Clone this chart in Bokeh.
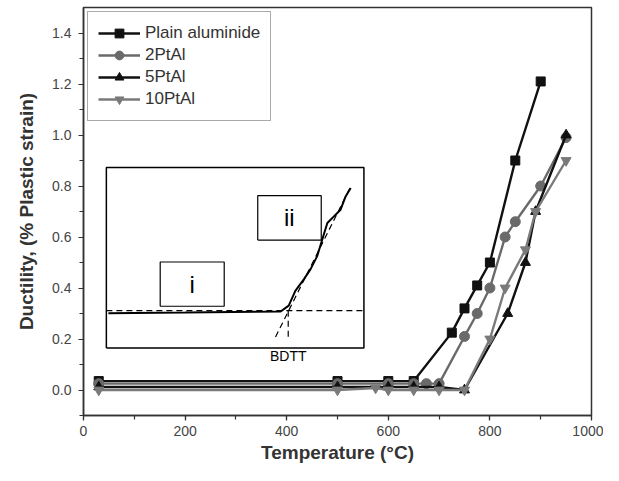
from bokeh.plotting import figure
from bokeh.models import Range1d, SingleIntervalTicker, NumeralTickFormatter, Legend, LegendItem, Label
from bokeh.embed import file_html
from bokeh.resources import INLINE

# Main series (Temperature in °C, ductility in % plastic strain)
plain_x = [30, 500, 600, 650, 725, 750, 775, 800, 850, 900]
plain_y = [0.035, 0.035, 0.035, 0.035, 0.225, 0.32, 0.41, 0.50, 0.90, 1.21]

pt2_x = [30, 500, 600, 650, 675, 700, 750, 775, 800, 830, 850, 900, 950]
pt2_y = [0.025, 0.025, 0.025, 0.025, 0.025, 0.025, 0.21, 0.30, 0.40, 0.60, 0.66, 0.80, 0.99]

pt5_x = [30, 500, 600, 650, 700, 750, 835, 870, 890, 950]
pt5_y = [0.012, 0.012, 0.012, 0.012, 0.012, 0.0, 0.30, 0.50, 0.70, 1.00]

pt10_x = [30, 500, 575, 600, 650, 700, 750, 800, 830, 870, 890, 950]
pt10_y = [0.0, 0.0, 0.008, 0.0, 0.0, 0.0, 0.0, 0.20, 0.40, 0.55, 0.70, 0.90]

series_names = ["Plain aluminide", "2PtAl", "5PtAl", "10PtAl"]

# Inset schematic (drawn in main data coordinates)
inset_box_x = [45, 552, 552, 45, 45]
inset_box_y = [0.165, 0.165, 0.873, 0.873, 0.165]
inset_curve_x = [49, 200, 388, 404, 417, 434, 447, 460, 470, 480, 493, 506, 516, 526]
inset_curve_y = [0.301, 0.304, 0.308, 0.331, 0.389, 0.435, 0.474, 0.525, 0.590, 0.655, 0.681, 0.707, 0.759, 0.792]
inset_hline_x = [45, 552]
inset_hline_y = [0.311, 0.311]
inset_tangent_x = [378, 526]
inset_tangent_y = [0.208, 0.798]
inset_vline_x = [403, 403]
inset_vline_y = [0.311, 0.195]
box_i_x = [151, 277, 277, 151, 151]
box_i_y = [0.3285, 0.3285, 0.502, 0.502, 0.3285]
box_ii_x = [343, 468, 468, 343, 343]
box_ii_y = [0.588, 0.588, 0.762, 0.762, 0.588]

FONT = "Liberation Sans"

p = figure(width=603, height=465, output_backend="svg", toolbar_location=None,
           x_range=Range1d(0, 1000), y_range=Range1d(-0.1, 1.5),
           min_border_left=83, min_border_right=12, min_border_top=7, min_border_bottom=50)
p.background_fill_color = "white"
p.border_fill_color = "white"
p.grid.visible = False
p.outline_line_color = "#333333"
p.outline_line_width = 1.5

for ax in (p.xaxis[0], p.yaxis[0]):
    ax.axis_line_color = "#333333"
    ax.axis_line_width = 1.5
    ax.major_tick_line_color = "#333333"
    ax.minor_tick_line_color = "#333333"
    ax.major_tick_line_width = 1.2
    ax.minor_tick_line_width = 1.2
    ax.major_tick_out = 5
    ax.major_tick_in = 0
    ax.minor_tick_out = 4
    ax.minor_tick_in = 0
    ax.major_label_text_font = FONT
    ax.major_label_text_font_size = "14px"
    ax.major_label_text_color = "#444444"
    ax.axis_label_text_font = FONT
    ax.axis_label_text_font_style = "bold"
    ax.axis_label_text_font_size = "19px"
    ax.axis_label_text_color = "#333333"

p.xaxis.ticker = SingleIntervalTicker(interval=200, num_minor_ticks=2)
p.yaxis.ticker = SingleIntervalTicker(interval=0.2, num_minor_ticks=2)
p.yaxis.formatter = NumeralTickFormatter(format="0.0")
p.xaxis.axis_label = "Temperature (°C)"
p.yaxis.axis_label = "Ductility, (% Plastic strain)"
p.xaxis.major_label_standoff = 5
p.yaxis.major_label_standoff = 7
p.xaxis.axis_label_standoff = 3
p.yaxis.axis_label_standoff = 12

# Inset
p.line(inset_box_x, inset_box_y, line_color="black", line_width=1.5)
p.line(box_i_x, box_i_y, line_color="black", line_width=1.2)
p.line(box_ii_x, box_ii_y, line_color="black", line_width=1.2)
p.line(inset_hline_x, inset_hline_y, line_color="black", line_width=1.2, line_dash="6 4")
p.line(inset_tangent_x, inset_tangent_y, line_color="black", line_width=1.2, line_dash="6 4")
p.line(inset_vline_x, inset_vline_y, line_color="black", line_width=1.2, line_dash="6 4")
p.line(inset_curve_x, inset_curve_y, line_color="black", line_width=2)
p.add_layout(Label(x=214, y=0.415, text="i", text_font=FONT, text_font_size="24px",
                   text_align="center", text_baseline="middle", text_color="black"))
p.add_layout(Label(x=405, y=0.675, text="ii", text_font=FONT, text_font_size="24px",
                   text_align="center", text_baseline="middle", text_color="black"))
p.add_layout(Label(x=403, y=0.135, text="BDTT", text_font=FONT, text_font_size="14px",
                   text_align="center", text_baseline="middle", text_color="black"))

colors = ["#111111", "#6a6a6a", "#111111", "#7a7a7a"]
markers = ["square", "circle", "triangle", "inverted_triangle"]
xs = [plain_x, pt2_x, pt5_x, pt10_x]
ys = [plain_y, pt2_y, pt5_y, pt10_y]
sizes = [9, 10, 10, 10]

items = []
for name, x, y, c, m, s in zip(series_names, xs, ys, colors, markers, sizes):
    r1 = p.line(x, y, line_color=c, line_width=2.4)
    r2 = p.scatter(x, y, marker=m, size=s, fill_color=c, line_color=c)
    items.append(LegendItem(label=name, renderers=[r1, r2]))

legend = Legend(items=items, location="top_left")
legend.label_text_font = FONT
legend.label_text_font_size = "17px"
legend.label_text_color = "#333333"
legend.glyph_width = 42
legend.glyph_height = 22
legend.label_height = 22
legend.spacing = 0
legend.padding = 10
legend.margin = 4
legend.label_standoff = 5
legend.border_line_color = "#555555"
legend.border_line_width = 1.2
legend.background_fill_alpha = 1.0
p.add_layout(legend)

open("out.html", "w").write(file_html(p, INLINE))
